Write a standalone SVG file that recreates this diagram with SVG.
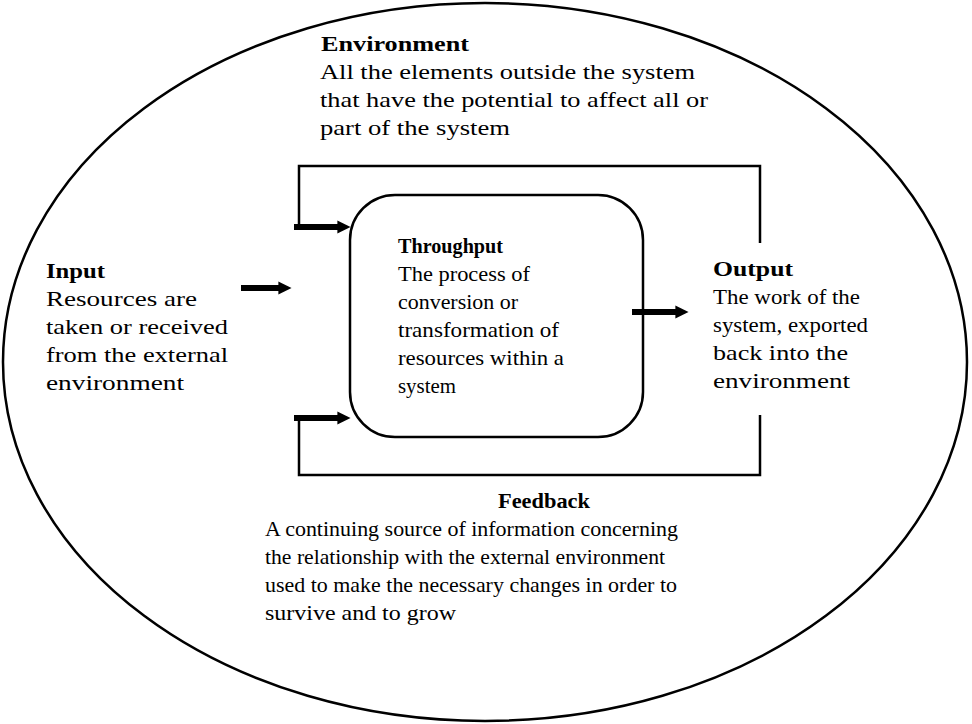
<svg xmlns="http://www.w3.org/2000/svg" width="972" height="724" viewBox="0 0 972 724">
<style>
text{font-family:"Liberation Serif","Times New Roman",serif;font-size:21px;fill:#000}
.b{font-weight:bold}
.ln{fill:none;stroke:#000;stroke-width:2.5}
.ar{fill:none;stroke:#000;stroke-width:6}
</style>
<defs><marker id="h" viewBox="0 0 10 10" refX="2" refY="5" markerWidth="2.2" markerHeight="2.6" orient="auto" markerUnits="strokeWidth"><path d="M0,0 L10,5 L0,10 z" fill="#000"/></marker></defs>
<rect width="972" height="724" fill="#fff"/>
<g id="environment">
<ellipse cx="485" cy="362" rx="482" ry="359" class="ln"/>
<text x="321" y="51" class="b" textLength="148" lengthAdjust="spacingAndGlyphs">Environment</text>
<text x="320" y="79" textLength="375" lengthAdjust="spacingAndGlyphs">All the elements outside the system</text>
<text x="320" y="107" textLength="388" lengthAdjust="spacingAndGlyphs">that have the potential to affect all or</text>
<text x="320" y="135" textLength="190" lengthAdjust="spacingAndGlyphs">part of the system</text>
</g>
<g id="throughput">
<rect x="350" y="195" width="293" height="242" rx="45" class="ln"/>
<text x="398" y="253" class="b" textLength="105" lengthAdjust="spacingAndGlyphs">Throughput</text>
<text x="398" y="281" textLength="132" lengthAdjust="spacingAndGlyphs">The process of</text>
<text x="398" y="309" textLength="120" lengthAdjust="spacingAndGlyphs">conversion or</text>
<text x="398" y="337" textLength="161" lengthAdjust="spacingAndGlyphs">transformation of</text>
<text x="398" y="365" textLength="166" lengthAdjust="spacingAndGlyphs">resources within a</text>
<text x="398" y="393" textLength="58" lengthAdjust="spacingAndGlyphs">system</text>
</g>
<g id="input">
<text x="46" y="278" class="b" textLength="59" lengthAdjust="spacingAndGlyphs">Input</text>
<text x="46" y="306" textLength="151" lengthAdjust="spacingAndGlyphs">Resources are</text>
<text x="46" y="334" textLength="182" lengthAdjust="spacingAndGlyphs">taken or received</text>
<text x="46" y="362" textLength="182" lengthAdjust="spacingAndGlyphs">from the external</text>
<text x="46" y="390" textLength="138" lengthAdjust="spacingAndGlyphs">environment</text>
</g>
<g id="output">
<text x="713" y="276" class="b" textLength="80" lengthAdjust="spacingAndGlyphs">Output</text>
<text x="713" y="304" textLength="147" lengthAdjust="spacingAndGlyphs">The work of the</text>
<text x="713" y="332" textLength="155" lengthAdjust="spacingAndGlyphs">system, exported</text>
<text x="713" y="360" textLength="135" lengthAdjust="spacingAndGlyphs">back into the</text>
<text x="713" y="388" textLength="137" lengthAdjust="spacingAndGlyphs">environment</text>
</g>
<g id="feedback">
<text x="498" y="508" class="b" textLength="92" lengthAdjust="spacingAndGlyphs">Feedback</text>
<text x="265" y="536" textLength="413" lengthAdjust="spacingAndGlyphs">A continuing source of information concerning</text>
<text x="265" y="564" textLength="400" lengthAdjust="spacingAndGlyphs">the relationship with the external environment</text>
<text x="265" y="592" textLength="412" lengthAdjust="spacingAndGlyphs">used to make the necessary changes in order to</text>
<text x="265" y="620" textLength="191" lengthAdjust="spacingAndGlyphs">survive and to grow</text>
</g>
<g id="connectors">
<polyline points="299,227 299,166 760,166 760,243" class="ln"/>
<polyline points="760,415 760,475 299,475 299,418" class="ln"/>
<line x1="294" y1="227" x2="340" y2="227" class="ar" marker-end="url(#h)"/>
<line x1="294" y1="418" x2="340" y2="418" class="ar" marker-end="url(#h)"/>
<line x1="241" y1="288" x2="281" y2="288" class="ar" marker-end="url(#h)"/>
<line x1="632" y1="312" x2="678" y2="312" class="ar" marker-end="url(#h)"/>
</g>
</svg>
